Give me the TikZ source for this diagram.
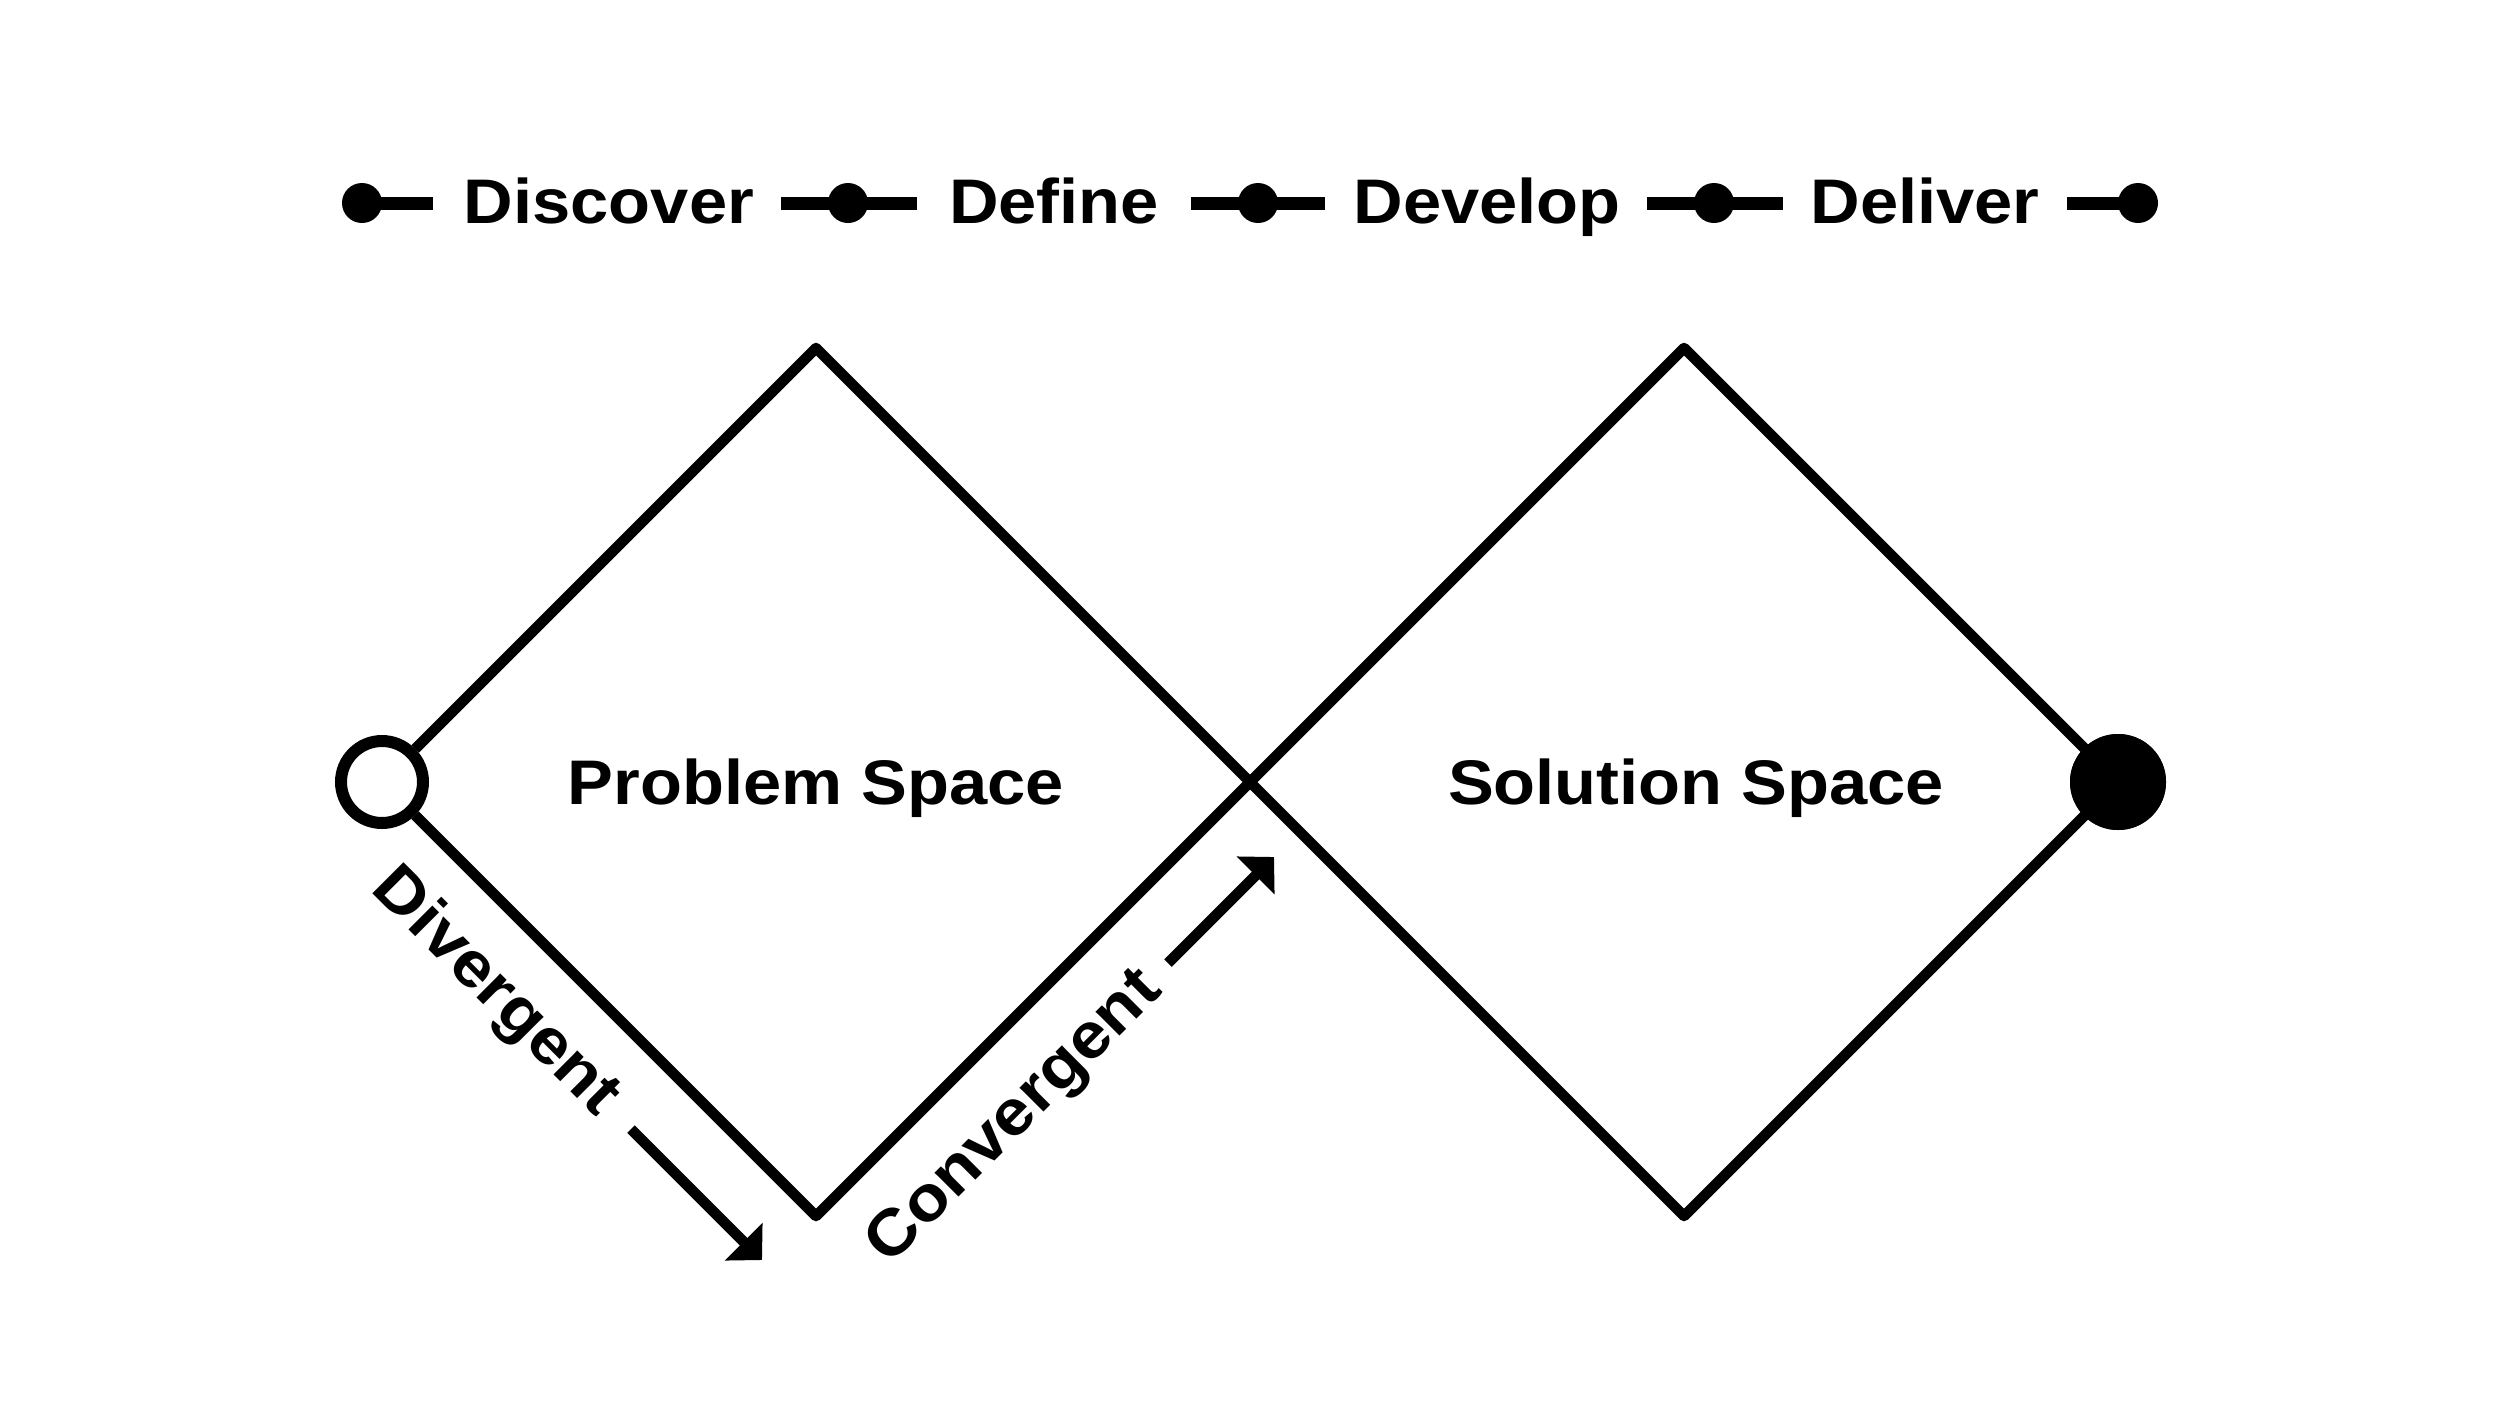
\documentclass[tikz,border=0pt]{standalone}
\usepackage{fontspec}
\newfontfamily\labfont{Liberation Sans}[FakeStretch=1.09]
\usetikzlibrary{arrows.meta}
\begin{document}
\begin{tikzpicture}[x=1pt,y=-1pt,
  edge/.style={line width=10.6pt, line join=round},
  bar/.style={line width=13pt},
  dot/.style={circle, fill=black, inner sep=0pt, minimum size=40pt},
  lab/.style={font=\labfont\bfseries\fontsize{63}{70}\selectfont, inner sep=0pt, anchor=base},
  slab/.style={font=\labfont\bfseries\fontsize{64}{70}\selectfont, inner sep=0pt, anchor=mid},
  flow/.style={line width=10.6pt, -{Triangle[length=26pt,width=52pt]}},
  opendot/.style={circle, draw=black, fill=white, line width=12pt, inner sep=0pt, minimum size=82pt},
  fulldot/.style={circle, fill=black, inner sep=0pt, minimum size=96pt}]
\fill[white] (0,0) rectangle (2500,1406);
\useasboundingbox (0,0) rectangle (2500,1406);

% top phase row
\node[dot] (d1) at (362,203) {};
\coordinate (b1e) at (433,203);
\draw[bar] (d1.center) -- (b1e);
\node[lab] (discover) at (609,223) {Discover};

\coordinate (b2s) at (781,203);
\node[dot] (d2) at (848,203) {};
\coordinate (b2e) at (917,203);
\draw[bar] (b2s) -- (b2e);
\node[lab] (define) at (1054,223) {Define};

\coordinate (b3s) at (1191,203);
\node[dot] (d3) at (1258,203) {};
\coordinate (b3e) at (1325,203);
\draw[bar] (b3s) -- (b3e);
\node[lab] (develop) at (1487,223) {Develop};

\coordinate (b4s) at (1647,203);
\node[dot] (d4) at (1714,203) {};
\coordinate (b4e) at (1783,203);
\draw[bar] (b4s) -- (b4e);
\node[lab] (deliver) at (1925,223) {Deliver};

\coordinate (b5s) at (2067,203);
\node[dot] (d5) at (2138,203) {};
\draw[bar] (b5s) -- (d5.center);

% diamonds
\coordinate (t1) at (816,348);
\coordinate (m1) at (1250,782);
\coordinate (u1) at (816,1216);
\coordinate (t2) at (1684,348);
\coordinate (u2) at (1684,1216);
\node[fulldot] (fd) at (2118,782) {};
\draw[edge] (m1) -- (t2) -- (fd.center) -- (u2) -- cycle;
\node[fulldot] at (2118,782) {};
\node[opendot] (od) at (382,782) {};
\draw[edge] (od) -- (t1) -- (m1) -- (u1) -- (od);

\node[lab] (prob) at (816,804) {Problem Space};
\node[lab] (sol) at (1696,804) {Solution Space};

% divergent / convergent
\node[slab, rotate=-45] (div) at (485,1003) {Divergent};
\coordinate (dvs) at (631,1129);
\coordinate (dve) at (762,1260);
\draw[flow] (dvs) -- (dve);

\node[slab, rotate=45] (conv) at (1025,1128) {Convergent};
\coordinate (cvs) at (1168,963);
\coordinate (cve) at (1274,857);
\draw[flow] (cvs) -- (cve);
\end{tikzpicture}
\end{document}
